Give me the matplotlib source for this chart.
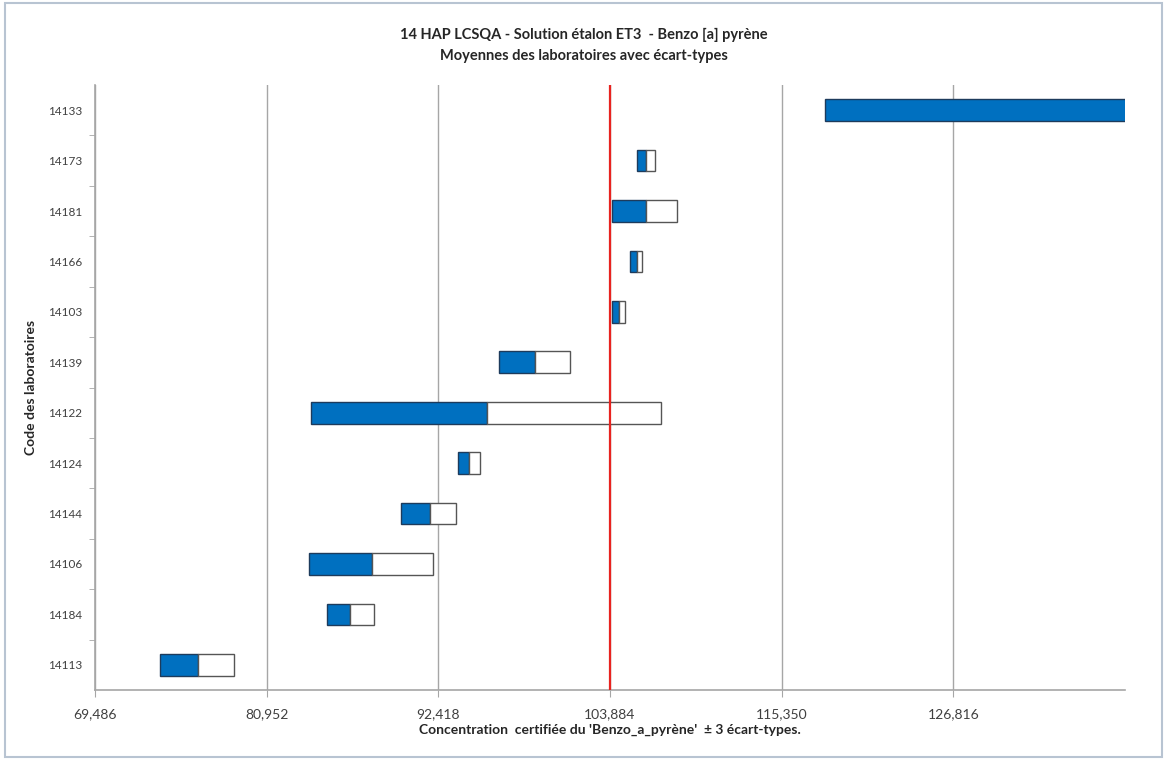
import matplotlib
matplotlib.use("Agg")
import matplotlib.pyplot as plt
from matplotlib.patches import Rectangle
from matplotlib.ticker import FixedLocator, FuncFormatter

# Laboratory codes, top to bottom
labs = ["14133", "14173", "14181", "14166", "14103", "14139",
        "14122", "14124", "14144", "14106", "14184", "14113"]
# mean - 3 sd, mean, mean + 3 sd
lower = [118230, 105720, 104020, 105210, 104020, 96450,
         83910, 93710, 89945, 83795, 84980, 73830]
means = [141000, 106260, 106260, 105700, 104475, 98905,
         95675, 94445, 91885, 87985, 86535, 76350]
upper = [163770, 106860, 108380, 106040, 104875, 101200,
         107260, 95230, 93620, 92040, 88095, 78800]

reference = 103884
xticks = [69486, 80952, 92418, 103884, 115350, 126816]
xmax = 138282

title_lines = ["14 HAP LCSQA - Solution étalon ET3  - Benzo [a] pyrène",
               "Moyennes des laboratoires avec écart-types"]
xlabel = "Concentration  certifiée du 'Benzo_a_pyrène'  ± 3 écart-types."
ylabel = "Code des laboratoires"

plt.rcParams["font.family"] = ["Lato", "DejaVu Sans"]

fig = plt.figure(figsize=(11.67, 7.62), dpi=100)
fig.patch.set_facecolor("white")
fig.patches.append(Rectangle((0.004, 0.006), 0.992, 0.99, transform=fig.transFigure,
                             fill=False, edgecolor="#b8c4d2", linewidth=1.5))

ax = fig.add_axes([95 / 1167, 1 - 690 / 762, (1125 - 95) / 1167, (690 - 85) / 762])

pos = list(range(len(labs)))
h = 0.43
ax.barh(pos, [m - l for m, l in zip(means, lower)], left=lower, height=h,
        color="#0070c0", edgecolor="#1d3b5c", linewidth=1.0, zorder=3)
ax.barh(pos, [u - m for u, m in zip(upper, means)], left=means, height=h,
        color="white", edgecolor="#555555", linewidth=1.0, zorder=3)

ax.axvline(reference, color="#e8231f", linewidth=1.6, zorder=4)

ax.set_xlim(xticks[0], xmax)
ax.set_ylim(len(labs) - 0.5, -0.5)

ax.xaxis.set_major_locator(FixedLocator(xticks))
ax.xaxis.set_major_formatter(FuncFormatter(lambda v, p: f"{v:,.0f}"))
ax.grid(axis="x", color="#a6a6a6", linewidth=1.0, zorder=0)
ax.set_axisbelow(True)

ax.set_yticks(pos)
ax.set_yticklabels(labs)
ax.set_yticks([p + 0.5 for p in pos[:-1]], minor=True)
ax.tick_params(axis="y", which="major", length=0, pad=9, labelsize=8.5, labelcolor="#404040")
ax.tick_params(axis="y", which="minor", length=4, color="#a6a6a6", direction="out")
ax.tick_params(axis="x", which="major", length=5, color="#a6a6a6", direction="out",
               labelsize=10, labelcolor="#404040", pad=8)

for side in ("top", "right"):
    ax.spines[side].set_visible(False)
for side in ("left", "bottom"):
    ax.spines[side].set_color("#a6a6a6")
    ax.spines[side].set_linewidth(1.2)

ax.set_xlabel(xlabel, fontsize=10, fontweight="bold", color="#262626", labelpad=3)
ax.set_ylabel(ylabel, fontsize=10, fontweight="bold", color="#262626", labelpad=8)

fig.text(0.5, 1 - 35 / 762, title_lines[0], ha="center", va="center",
         fontsize=10.5, fontweight="bold", color="#262626")
fig.text(0.5, 1 - 56 / 762, title_lines[1], ha="center", va="center",
         fontsize=10.5, fontweight="bold", color="#262626")

fig.savefig("out.png", dpi=100, facecolor="white")
